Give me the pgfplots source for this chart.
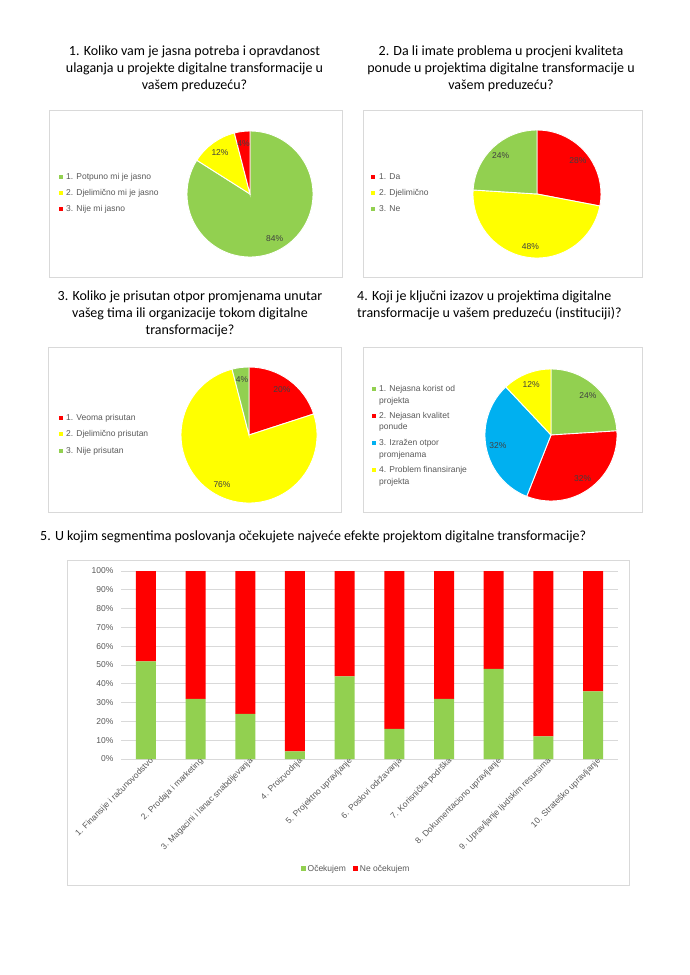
\documentclass[border=0pt]{standalone}
\usepackage{fontspec}
\setmainfont{Liberation Sans}
\newfontfamily\titlefont{Carlito}
\usepackage{pgfplots}
\pgfplotsset{compat=1.18}

\definecolor{cgreen}{HTML}{92D050}
\definecolor{cyellow}{HTML}{FFFF00}
\definecolor{cred}{HTML}{FF0000}
\definecolor{cblue}{HTML}{00B0F0}
\definecolor{boxgray}{HTML}{D9D9D9}
\definecolor{txtgray}{HTML}{595959}
\definecolor{labgray}{HTML}{404040}

\newcommand{\chartfont}{\fontsize{8.5bp}{10bp}\selectfont}

% pie: #1 radius (bp), #2 label distance (bp), #3 list value/colour, clockwise from 12 o'clock
\newcommand{\pie}[3]{%
  \gdef\startang{90}%
  \foreach \v/\c in {#3}{%
    \pgfmathsetmacro\endang{\startang-3.6*\v}%
    \edef\temp{\noexpand\fill[\c,draw=white,line width=0.9bp] (axis cs:0,0) -- ++(\startang:#1bp)
      arc[start angle=\startang,end angle=\endang,radius=#1bp] -- cycle;}%
    \temp
    \global\let\startang\endang
  }%
  \gdef\startang{90}%
  \foreach \v/\c in {#3}{%
    \pgfmathsetmacro\endang{\startang-3.6*\v}%
    \pgfmathsetmacro\midang{(\startang+\endang)/2}%
    \edef\temp{\noexpand\node[text=labgray,font=\noexpand\chartfont,inner sep=0pt]
      at ([shift={(\midang:#2bp)}]axis cs:0,0) {\v\noexpand\%};}%
    \temp
    \global\let\startang\endang
  }%
}

\tikzset{
  title/.style={font=\titlefont\fontsize{14bp}{17.3bp}\selectfont, inner sep=0pt},
  leg/.style={font=\chartfont, text=txtgray, inner sep=0pt, anchor=west},
  piebox/.style={draw=boxgray, line width=0.8bp},
}
\newcommand{\legmark}[3]{\fill[#1] (#2bp-2.3bp,-#3bp-2.3bp) rectangle (#2bp+2.3bp,-#3bp+2.3bp);}

\begin{document}
\begin{tikzpicture}
\fill[white] (0,0) rectangle (690bp,-975bp);
\useasboundingbox (0,0) rectangle (690bp,-975bp);

% titles
\node[title, align=center, anchor=north] at (194.5bp,-45.3bp)
  {1. Koliko vam je jasna potreba i opravdanost\\ulaganja u projekte digitalne transformacije u\\vašem preduzeću?};
\node[title, align=center, anchor=north] at (501bp,-45.3bp)
  {2. Da li imate problema u procjeni kvaliteta\\ponude u projektima digitalne transformacije u\\vašem preduzeću?};
\node[title, align=center, anchor=north] at (190bp,-290.3bp)
  {3. Koliko je prisutan otpor promjenama unutar\\vašeg tima ili organizacije tokom digitalne\\transformacije?};
\node[title, align=left, anchor=north west] at (357bp,-290.3bp)
  {4. Koji je ključni izazov u projektima digitalne\\transformacije u vašem preduzeću (instituciji)?};
\node[title, anchor=north west] at (40bp,-530.3bp)
  {5. U kojim segmentima poslovanja očekujete najveće efekte projektom digitalne transformacije?};

% chart frames
\draw[piebox] (49bp,-110bp) rectangle (342bp,-277bp);
\draw[piebox] (363bp,-110bp) rectangle (642bp,-277bp);
\draw[piebox] (48bp,-347bp) rectangle (341bp,-512bp);
\draw[piebox] (363bp,-347bp) rectangle (642bp,-512bp);
\draw[piebox] (67bp,-560bp) rectangle (629bp,-885bp);

% pie 1
\begin{axis}[at={(250bp,-194bp)}, anchor=center, scale only axis, width=126bp, height=126bp,
  xmin=-1, xmax=1, ymin=-1, ymax=1, hide axis, clip=false]
\pie{63}{51}{84/cgreen,12/cyellow,4/cred}
\end{axis}
\legmark{cgreen}{61}{177}\node[leg] at (66bp,-177bp) {1. Potpuno mi je jasno};
\legmark{cyellow}{61}{193}\node[leg] at (66bp,-193bp) {2. Djelimično mi je jasno};
\legmark{cred}{61}{209}\node[leg] at (66bp,-209bp) {3. Nije mi jasno};

% pie 2
\begin{axis}[at={(537bp,-194bp)}, anchor=center, scale only axis, width=128bp, height=128bp,
  xmin=-1, xmax=1, ymin=-1, ymax=1, hide axis, clip=false]
\pie{64}{53}{28/cred,48/cyellow,24/cgreen}
\end{axis}
\legmark{cred}{373}{177}\node[leg] at (379bp,-177bp) {1. Da};
\legmark{cyellow}{373}{193}\node[leg] at (379bp,-193bp) {2. Djelimično};
\legmark{cgreen}{373}{209}\node[leg] at (379bp,-209bp) {3. Ne};

% pie 3
\begin{axis}[at={(249bp,-435bp)}, anchor=center, scale only axis, width=136bp, height=136bp,
  xmin=-1, xmax=1, ymin=-1, ymax=1, hide axis, clip=false]
\pie{68}{56}{20/cred,76/cyellow,4/cgreen}
\end{axis}
\legmark{cred}{61}{418}\node[leg] at (66bp,-418bp) {1. Veoma prisutan};
\legmark{cyellow}{61}{434}\node[leg] at (66bp,-434bp) {2. Djelimično prisutan};
\legmark{cgreen}{61}{451}\node[leg] at (66bp,-451bp) {3. Nije prisutan};

% pie 4
\begin{axis}[at={(551bp,-435bp)}, anchor=center, scale only axis, width=132bp, height=132bp,
  xmin=-1, xmax=1, ymin=-1, ymax=1, hide axis, clip=false]
\pie{66}{54}{24/cgreen,32/cred,32/cblue,12/cyellow}
\end{axis}
\legmark{cgreen}{374}{389}\node[leg] at (379bp,-389bp) {1. Nejasna korist od};
\node[leg] at (379bp,-401bp) {projekta};
\legmark{cred}{374}{416}\node[leg] at (379bp,-416bp) {2. Nejasan kvalitet};
\node[leg] at (379bp,-427bp) {ponude};
\legmark{cblue}{374}{443}\node[leg] at (379bp,-443bp) {3. Izražen otpor};
\node[leg] at (379bp,-455bp) {promjenama};
\legmark{cyellow}{374}{470}\node[leg] at (379bp,-470bp) {4. Problem finansiranje};
\node[leg] at (379bp,-482bp) {projekta};

% stacked bars
\begin{axis}[at={(121bp,-759bp)}, anchor=south west, scale only axis, width=497bp, height=188bp,
  ybar stacked, bar width=20bp,
  xmin=-0.5, xmax=9.5, ymin=0, ymax=100,
  ytick={0,10,...,100}, yticklabel={\pgfmathprintnumber{\tick}\%},
  xtick={0,...,9},
  xticklabels={1. Finansije i računovodstvo, 2. Prodaja i marketing, 3. Magacini i lanac snabdijevanja,
    4. Proizvodnja, 5. Projektno upravljanje, 6. Poslovi održavanja, 7. Korisnička podrška,
    8. Dokumentaciono upravljanje, 9. Upravljanje ljudskim resursima, 10. Strateško upravljanje},
  x tick label style={rotate=45, anchor=north east, inner sep=1bp, xshift=5bp},
  y tick label style={xshift=-4bp},
  tick label style={font=\chartfont, text=txtgray},
  /pgf/number format/assume math mode=true,
  ymajorgrids, grid style={boxgray, line width=0.8bp},
  axis line style={draw=none}, major tick length=0pt,
  legend style={at={(0.473,-0.585)}, anchor=center, draw=none, legend columns=2,
    font=\chartfont, text=txtgray, /tikz/every even column/.append style={column sep=5bp}},
  legend image code/.code={\fill[#1] (0bp,-2.5bp) rectangle (5bp,2.5bp);},
]
\addplot[fill=cgreen, draw=none] coordinates {(0,52) (1,32) (2,24) (3,4) (4,44) (5,16) (6,32) (7,48) (8,12) (9,36)};
\addplot[fill=cred, draw=none] coordinates {(0,48) (1,68) (2,76) (3,96) (4,56) (5,84) (6,68) (7,52) (8,88) (9,64)};
\legend{Očekujem, Ne očekujem}
\end{axis}
\end{tikzpicture}
\end{document}
